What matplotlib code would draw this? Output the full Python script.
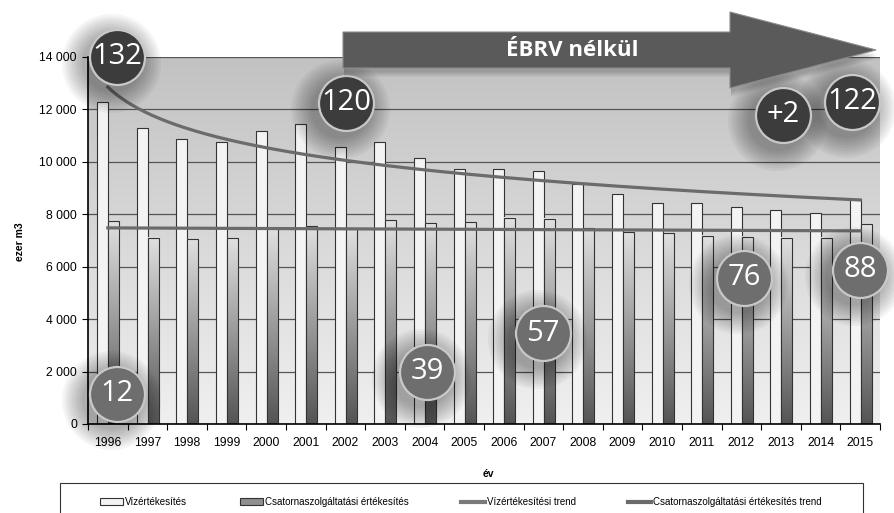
import numpy as np
import matplotlib.pyplot as plt
from matplotlib.patches import Polygon, Rectangle, Patch
from matplotlib.lines import Line2D
from matplotlib.ticker import FuncFormatter
from matplotlib import transforms

plt.rcParams['font.family'] = ['Liberation Sans', 'DejaVu Sans']

# Data (ezer m3)
years = [str(y) for y in range(1996, 2016)]
viz = [12280, 11310, 10870, 10750, 11160, 11440, 10550, 10750, 10130, 9730,
       9730, 9670, 9150, 8780, 8420, 8420, 8270, 8160, 8050, 8580]
csatorna = [7740, 7110, 7050, 7090, 7460, 7540, 7460, 7770, 7660, 7690,
            7870, 7830, 7460, 7310, 7280, 7180, 7150, 7110, 7110, 7620]

legend_labels = ['Vízértékesítés', 'Csatornaszolgáltatási értékesítés',
                 'Vízértékesítési trend', 'Csatornaszolgáltatási értékesítés trend']

# annotation bubbles
bubble_labels = ['132', '120', '+2', '122', '12', '39', '57', '76', '88']
bubble_dark = [True, True, True, True, False, False, False, False, False]
bubble_pos = [(0.23, 14010), (6.02, 12250), (17.05, 11790), (18.79, 12290),
              (0.23, 1145), (8.06, 1985), (10.99, 3470), (16.07, 5570), (19.0, 5880)]

W, H = 895, 513
fig = plt.figure(figsize=(W / 100, H / 100), dpi=100)
ax = fig.add_axes([88 / W, 1 - 424 / H, (880 - 88) / W, (424 - 57) / H])

x = np.arange(len(years))
bw = 0.28

# plot area background gradient
top_c, bot_c = np.array([0.76, 0.76, 0.76]), np.array([0.94, 0.94, 0.94])
t = np.linspace(0, 1, 256)[:, None, None]
bg = top_c * (1 - t) + bot_c * t
ax.imshow(bg, extent=[-0.5, 19.5, 0, 14000], aspect='auto', zorder=0)

ax.set_axisbelow(True)
ax.yaxis.grid(True, color='#555555', lw=0.9)

ax.bar(x - 0.13, viz, width=bw, color='#f3f3f3', edgecolor='#333333', lw=0.8, zorder=2)

# gradient bars for csatorna
gtop, gbot = np.array([0.88, 0.88, 0.88]), np.array([0.33, 0.33, 0.33])
gg = gtop * (1 - t) + gbot * t
for xi, v in zip(x, csatorna):
    ax.imshow(gg, extent=[xi + 0.15 - bw / 2, xi + 0.15 + bw / 2, 0, v],
              aspect='auto', zorder=2)
ax.bar(x + 0.15, csatorna, width=bw, facecolor='none', edgecolor='#333333', lw=0.8, zorder=2.1)

# trend lines
b, a = np.polyfit(np.log(x + 1), viz, 1)
xs = np.linspace(0, 19, 200)
ax.plot(xs, a + b * np.log(xs + 1), color='#6b6b6b', lw=2.3, zorder=3)
m, c0 = np.polyfit(x, csatorna, 1)
ax.plot(xs, m * xs + c0, color='#6b6b6b', lw=2.3, zorder=3)

ax.set_xlim(-0.5, 19.5)
ax.set_ylim(0, 14000)
ax.set_yticks(range(0, 14001, 2000))
ax.yaxis.set_major_formatter(FuncFormatter(lambda v, p: f"{int(v):,}".replace(',', ' ')))
ax.set_xticks(x)
ax.set_xticklabels(years)
ax.set_xticks(np.arange(-0.5, 20, 1), minor=True)
ax.tick_params(axis='x', which='major', length=0, pad=9)
ax.tick_params(axis='x', which='minor', length=4, direction='out', width=0.8)
ax.tick_params(axis='y', length=4, width=0.8, pad=4)
ax.tick_params(labelsize=8.7)
for s in ['top', 'right']:
    ax.spines[s].set_visible(False)
for s in ['left', 'bottom']:
    ax.spines[s].set_color('black')
    ax.spines[s].set_linewidth(1.2)
    ax.spines[s].set_zorder(2.5)

fig.text(20 / W, 1 - 242 / H, 'ezer m3', rotation=90, fontsize=7.5, fontweight='bold',
         ha='center', va='center')
fig.text(488 / W, 1 - 474 / H, 'év', fontsize=7.5, fontweight='bold', ha='center', va='center')

# arrow "ÉBRV nélkül"
def fp(px, py):
    return (px / W, 1 - py / H)

arrow_px = [(343, 32), (730, 32), (730, 12), (876, 50), (730, 88), (730, 68), (343, 68)]
for k in range(6, 0, -1):
    shadow = Polygon([fp(px + 1, py + 3 + k) for px, py in arrow_px], closed=True,
                     transform=fig.transFigure, facecolor='black', alpha=0.035,
                     edgecolor='none', zorder=4)
    fig.add_artist(shadow)
fig.add_artist(Polygon([fp(px, py) for px, py in arrow_px], closed=True,
                       transform=fig.transFigure, facecolor='#5a5a5a',
                       edgecolor='#8a8a8a', lw=0.8, zorder=5))
fig.text(572 / W, 1 - 50 / H, 'ÉBRV nélkül', color='white', fontsize=16,
         fontweight='bold', family=['Open Sans', 'DejaVu Sans'],
         ha='center', va='center', zorder=6)

# bubbles with soft shadows
for lab, dark, (bx, by) in zip(bubble_labels, bubble_dark, bubble_pos):
    sh = transforms.offset_copy(ax.transData, fig=fig, x=-6, y=-6, units='dots')
    for k in range(9):
        r = 27 + 2.5 * (9 - k)
        ax.scatter([bx], [by], s=(2 * r * 0.72) ** 2, color='black', alpha=0.04,
                   transform=sh, clip_on=False, zorder=6, linewidths=0)
    fc = '#3c3c3c' if dark else '#6e6e6e'
    ax.scatter([bx], [by], s=(2 * 27.5 * 0.72) ** 2, color=fc, edgecolors='#c8c8c8',
               linewidths=1.6, clip_on=False, zorder=7)
    ax.text(bx, by, lab, color='white', fontsize=21, family=['Open Sans', 'DejaVu Sans'],
            ha='center', va='center', zorder=8, clip_on=False)

# legend
fig.add_artist(Rectangle(fp(60, 521), 803 / W, 38 / H, transform=fig.transFigure,
                         fill=False, edgecolor='#333333', lw=0.8))
handles = [Patch(facecolor='#f3f3f3', edgecolor='#333333', lw=0.8),
           Patch(facecolor='#8f8f8f', edgecolor='#333333', lw=0.8),
           Line2D([], [], color='#7a7a7a', lw=3),
           Line2D([], [], color='#6b6b6b', lw=3)]
fig.legend(handles, legend_labels, loc='center', bbox_to_anchor=fp(461, 502), ncol=4,
           frameon=False, fontsize=7, handlelength=2.4, handletextpad=0.2,
           columnspacing=5.4)

fig.savefig('out.png', dpi=100)
